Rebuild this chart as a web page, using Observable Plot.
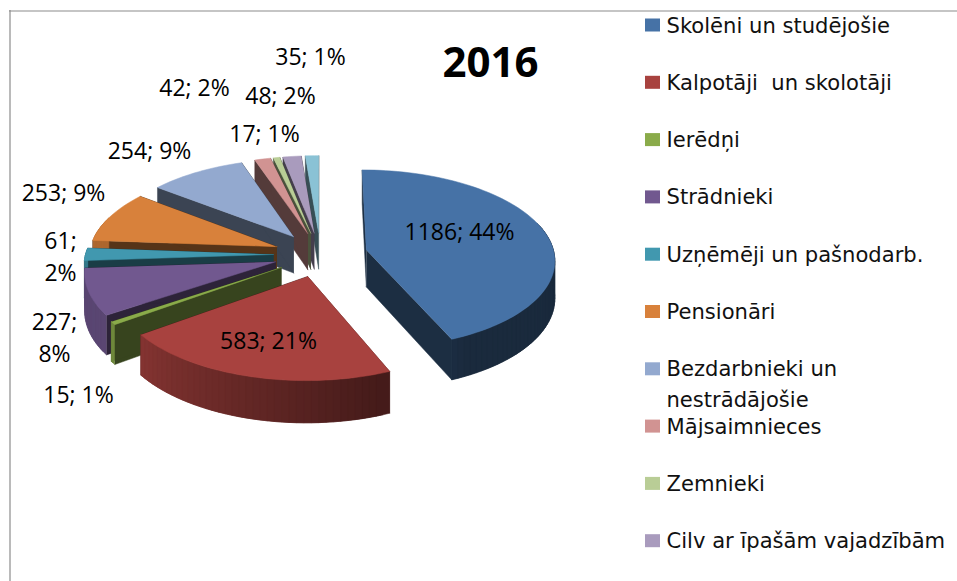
<!DOCTYPE html>
<html><head><meta charset="utf-8">
<script src="https://cdn.jsdelivr.net/npm/d3@7"></script>
<script src="https://cdn.jsdelivr.net/npm/@observablehq/plot@0.6"></script>
<style>html,body{margin:0;padding:0;background:#fff}svg{display:block}</style>
</head><body><div id="chart"></div>
<script>
// ---- data ----
const title = "2016";
const values = [1186, 583, 15, 227, 61, 253, 254, 42, 17, 48, 35];
const percents = [44, 21, 1, 8, 2, 9, 9, 2, 1, 2, 1];
const colors = ["#4672A6","#A8423F","#8AAB4A","#71588F","#4198AF","#D8813B","#93A9CF","#D19392","#B9CD96","#A99BBD","#8AC2D5"];
const legendLabels = ["Skolēni un studējošie","Kalpotāji  un skolotāji","Ierēdņi","Strādnieki","Uzņēmēji un pašnodarb.","Pensionāri","Bezdarbnieki un\nnestrādājošie","Mājsaimnieces","Zemnieki","Cilv ar īpašām vajadzībām"];

// ---- layout (not data) ----
const W = 957, H = 581;
const view = {cx: 320, cy: 254, rx: 188, ry: 89, persp: 0.1, depth: 37, explode: 0.25};
const labelSpots = [[459,229],[268,338],[78,392],[54,335],[60,254],[63,190],[149,148],[194,85],[264,131],[280,93],[310,54]];
const labelBreak = [false,false,false,true,true,false,false,false,false,false,false];
const wallShade = d3.scaleLinear([150,235],[0.37,0.8]).clamp(true);
const radialShade = 0.4;

const total = d3.sum(values);
function project(u, v, drop) {
  const w = 1 / (1 - view.persp * v);
  return [view.cx + view.rx * u * w, view.cy + view.ry * v * w + (drop ? view.depth * w : 0)];
}
const dim = (hex, f) => { const c = d3.rgb(hex); return d3.rgb(c.r*f, c.g*f, c.b*f).formatHex(); };

let cum = 0;
const slices = values.map((value, i) => {
  const a0 = cum / total * 360; cum += value; const a1 = cum / total * 360;
  const mid = (a0 + a1) / 2, rad = d => d * Math.PI / 180;
  const ou = view.explode * Math.sin(rad(mid)), ov = -view.explode * Math.cos(rad(mid));
  const n = Math.max(2, Math.ceil((a1 - a0) / 2));
  const angles = d3.range(n + 1).map(k => a0 + (a1 - a0) * k / n);
  const rim = a => [ou + Math.sin(rad(a)), ov - Math.cos(rad(a))];
  return {i, value, a0, a1, mid, apex: [ou, ov], angles, rim, color: colors[i],
          sort: ov - Math.cos(rad(mid)) * 0.6};
});

const rows = [];
let id = 0;
function poly(points, fill) { const k = id++; for (const [x, y] of points) rows.push({x, y, k, fill}); }
for (const s of d3.sort(slices, d => d.sort)) {
  const top = ([u, v]) => project(u, v, false), low = ([u, v]) => project(u, v, true);
  // radial walls
  const wallFill = dim(s.color, radialShade);
  for (const a of [s.a0, s.a1]) poly([top(s.apex), top(s.rim(a)), low(s.rim(a)), low(s.apex)], wallFill);
  // outer wall, shaded along the rim; each band runs on to the rim's end so no seams show
  const rimStops = s.angles;
  const order = d3.range(rimStops.length - 1).reverse();
  const facing = order.filter(j => Math.cos(rimStops[j] * Math.PI / 180) < 0.3 || Math.cos(rimStops[j + 1] * Math.PI / 180) < 0.3);
  for (const j of facing) {
    const arc = rimStops.slice(j, j + 2).concat(j + 2 < rimStops.length ? [rimStops[j + 2]] : []).map(s.rim);
    poly([...arc.map(top), ...arc.slice().reverse().map(low)], dim(s.color, wallShade((rimStops[j] + rimStops[j + 1]) / 2)));
  }
  // top face
  poly([top(s.apex), ...s.angles.map(a => top(s.rim(a)))], s.color);
}

const labels = values.map((v, i) => ({
  text: labelBreak[i] ? `${v};\n${percents[i]}%` : `${v}; ${percents[i]}%`,
  x: labelSpots[i][0], y: labelSpots[i][1]
}));
const legendRows = legendLabels.map((label, i) => ({label, y: 25 + i * 57.3}));

const chart = Plot.plot({
  width: W, height: H, margin: 0,
  x: {domain: [0, W], range: [0, W], axis: null},
  y: {domain: [0, H], range: [0, H], axis: null},
  color: {type: "identity"},
  style: {background: "#fff"},
  marks: [
    Plot.ruleY([10.5], {x1: 9, x2: W, stroke: "#8c8c8c", strokeWidth: 1.2}),
    Plot.ruleX([9.5], {y1: 10, y2: H, stroke: "#8c8c8c", strokeWidth: 1.2}),
    Plot.line(rows, {x: "x", y: "y", z: "k", fill: "fill", stroke: "fill", strokeWidth: 0.5, curve: "linear"}),
    Plot.text(labels, {x: "x", y: "y", text: "text", fontFamily: "Open Sans", fontSize: 23, fill: "#000", lineHeight: 1.4}),
    Plot.text([title], {x: [490], y: [63], text: d => d, fontFamily: "Open Sans", fontWeight: 700, fontSize: 42, fill: "#000"}),
    Plot.rect(legendRows, {x1: 645, x2: 660, y1: d => d.y - 6.5, y2: d => d.y + 6.5, fill: (d, i) => colors[i]}),
    Plot.text(legendRows, {x: 666, y: d => d.y - 15, text: "label", textAnchor: "start", lineAnchor: "top", fontFamily: "DejaVu Sans", fontSize: 21.1, fill: "#111", lineHeight: 1.47})
  ]
});
document.getElementById("chart").appendChild(chart);
</script></body></html>
